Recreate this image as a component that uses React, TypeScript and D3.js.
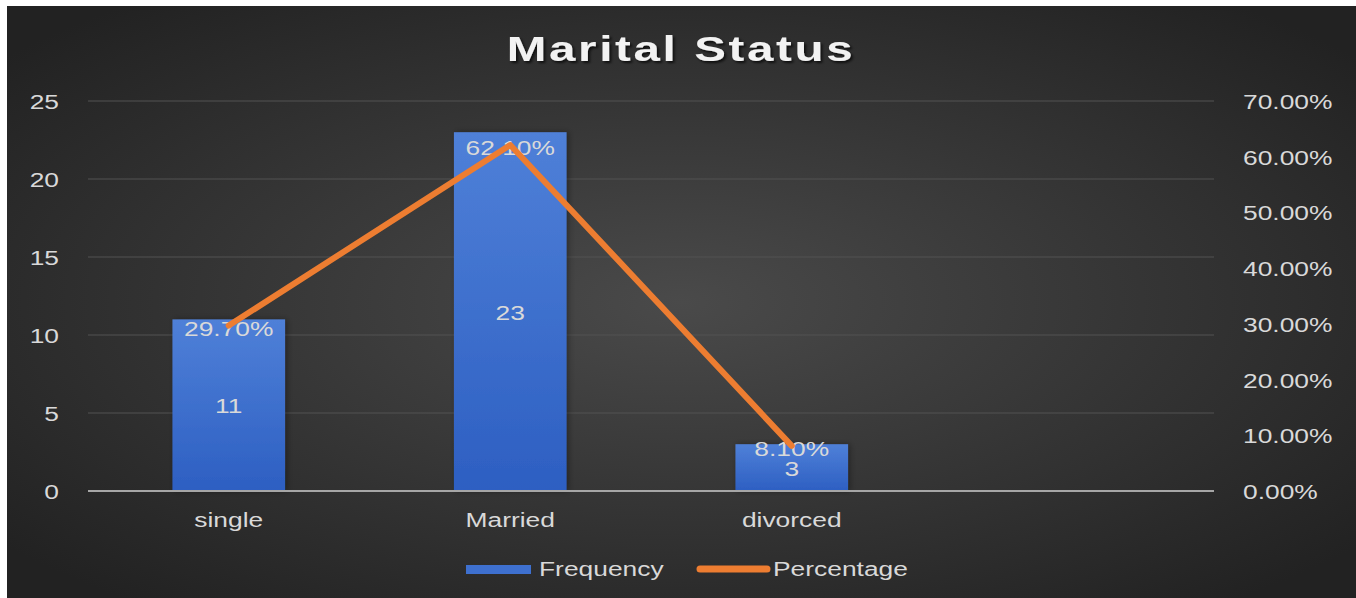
import React from "react";
import * as d3 from "d3";

const categories = ["single", "Married", "divorced", ""];
const frequency = [11, 23, 3];
const percentage = [29.7, 62.1, 8.1];
const leftTicks = [0, 5, 10, 15, 20, 25];
const rightTicks = [0, 10, 20, 30, 40, 50, 60, 70];
const title = "Marital Status";
const seriesNames = ["Frequency", "Percentage"];

const W = 1356;
const H = 598;
const SX = 1.32;
const FONT = "'Liberation Sans', Arial, sans-serif";
const TXT = "#d9d9d9";

function T({ x, y, anchor = "middle", size = 20, weight = "normal", fill = TXT, ls = 0, filter, children }: any) {
  return (
    <text
      transform={`translate(${x},${y}) scale(${SX},1)`}
      textAnchor={anchor}
      fontSize={size}
      fontWeight={weight}
      fill={fill}
      fontFamily={FONT}
      letterSpacing={ls}
      filter={filter}
    >
      {children}
    </text>
  );
}

export default function App() {
  const x = d3.scaleBand<string>().domain(categories).range([88, 1214]).padding(0);
  const yL = d3.scaleLinear().domain([0, 25]).range([491, 101]);
  const yR = d3.scaleLinear().domain([0, 70]).range([491, 101]);
  const bw = x.bandwidth();
  const barW = bw * 0.4;
  const cx = (i: number) => (x(categories[i]) as number) + bw / 2;

  const line = d3
    .line<number>()
    .x((_, i) => cx(i))
    .y((d) => yR(d));

  return (
    <svg
      width={W}
      height={H}
      style={{ position: "absolute", left: 0, top: 0, display: "block" }}
    >
      <defs>
        <radialGradient id="bg" cx="50%" cy="50%" r="65%">
          <stop offset="0%" stopColor="#4a4a4a" />
          <stop offset="100%" stopColor="#222222" />
        </radialGradient>
        <linearGradient id="barg" x1="0" y1="0" x2="0" y2="1">
          <stop offset="0%" stopColor="#4f80d8" />
          <stop offset="100%" stopColor="#2d5fc2" />
        </linearGradient>
        <filter id="tshadow" x="-10%" y="-30%" width="120%" height="160%">
          <feDropShadow dx="1.5" dy="2" stdDeviation="1.2" floodColor="#000" floodOpacity="0.7" />
        </filter>
        <filter id="bshadow" x="-20%" y="-10%" width="140%" height="120%">
          <feDropShadow dx="2" dy="0" stdDeviation="3" floodColor="#000" floodOpacity="0.35" />
        </filter>
      </defs>
      <rect x={0} y={0} width={W} height={H} fill="#ffffff" />
      <rect x={7} y={6} width={W - 7} height={H - 6} fill="url(#bg)" />

      <T x={681} y={61} size={36} weight="bold" fill="#f2f2f2" ls={2} filter="url(#tshadow)">
        {title}
      </T>

      {leftTicks.map((t) =>
        t === 0 ? null : (
          <line key={"g" + t} x1={88} x2={1214} y1={yL(t)} y2={yL(t)} stroke="#525252" strokeWidth={1} />
        )
      )}

      {leftTicks.map((t) => (
        <T key={"l" + t} x={59} y={yL(t) + 8} anchor="end">
          {String(t)}
        </T>
      ))}
      {rightTicks.map((t) => (
        <T key={"r" + t} x={1243} y={yR(t) + 8} anchor="start">
          {t.toFixed(2) + "%"}
        </T>
      ))}

      {frequency.map((v, i) => (
        <rect
          key={"b" + i}
          x={cx(i) - barW / 2}
          y={yL(v)}
          width={barW}
          height={yL(0) - yL(v)}
          fill="url(#barg)"
          filter="url(#bshadow)"
        />
      ))}

      <line x1={88} x2={1214} y1={yL(0)} y2={yL(0)} stroke="#a6a6a6" strokeWidth={2} />

      {categories.map((c, i) => (
        <T key={"c" + i} x={cx(i)} y={527}>
          {c}
        </T>
      ))}

      {frequency.map((v, i) => (
        <T key={"fl" + i} x={cx(i)} y={(yL(v) + yL(0)) / 2 + 8}>
          {String(v)}
        </T>
      ))}

      {percentage.map((v, i) => (
        <T key={"pl" + i} x={cx(i)} y={yR(v) + 10}>
          {v.toFixed(2) + "%"}
        </T>
      ))}

      <path
        d={line(percentage) || ""}
        fill="none"
        stroke="#ed7d31"
        strokeWidth={6}
        strokeLinejoin="round"
        strokeLinecap="round"
      />

      <rect x={466} y={565} width={65} height={9} fill="#3e70cf" />
      <T x={539} y={576} anchor="start">
        {seriesNames[0]}
      </T>
      <line x1={700} x2={767} y1={569} y2={569} stroke="#ed7d31" strokeWidth={7} strokeLinecap="round" />
      <T x={773} y={576} anchor="start">
        {seriesNames[1]}
      </T>
    </svg>
  );
}
